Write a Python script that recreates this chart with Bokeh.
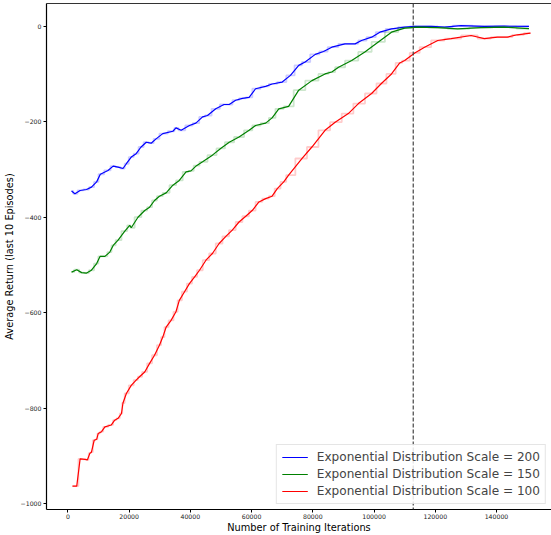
from bokeh.plotting import figure
from bokeh.models import (LinearAxis, FixedTicker, Span, Range1d, Legend, LegendItem,
                          BasicTickFormatter)
from bokeh.embed import file_html
from bokeh.resources import INLINE

# ---- data ----
x_200 = [1200, 2300, 4000, 6100, 7700, 9400, 10600, 13100, 14800, 16400, 18000, 19100, 20700, 22300,
         23900, 25600, 27200, 28800, 31000, 34300, 35300, 37000, 39700, 41800, 44000, 45600, 48300,
         51000, 52700, 54800, 57000, 59200, 61300, 64600, 66700, 70000, 72700, 75400, 77500, 80800,
         83500, 86200, 90500, 93800, 95900, 99200, 101900, 105700, 110000, 113300, 118700, 123000,
         128400, 136000, 142500, 150600]
y_200 = [-345, -351, -344, -342, -337, -326, -310, -302, -293, -295, -298, -288, -274, -267,
         -253, -243, -245, -236, -225, -220, -213, -218, -208, -203, -190, -187, -173,
         -164, -164, -155, -151, -149, -131, -126, -121, -117, -103, -82, -75, -59,
         -53, -44, -37, -37, -30, -23, -12.5, -5.5, -2, -0.6, -0.6, -2,
         1, -0.6, 0, -0.6]

x_150 = [1200, 2900, 4500, 6100, 7700, 9400, 10500, 12100, 13700, 14800, 16400, 18600, 20200, 20700,
         22900, 25100, 26700, 28300, 29900, 32100, 34300, 36400, 38600, 40200, 42000, 44000, 47200,
         49900, 52700, 55900, 59200, 61300, 64600, 66700, 68900, 72100, 75400, 79700, 84000, 86200,
         88400, 92700, 97000, 101400, 105700, 110000, 114400, 120800, 127300, 134900, 142500, 150600]
y_150 = [-515, -510, -516, -517, -511, -497, -482, -482, -473, -459, -448, -429, -417, -422,
         -400, -386, -379, -365, -356, -349, -333, -323, -305, -303, -292, -284, -270,
         -256, -243, -232, -218, -208, -203, -192, -173, -168, -134, -114, -100, -96,
         -86, -72, -54, -33, -12.5, -4, -2, -3, -5.5, -3, -2, -5]

x_100 = [1500, 2900, 4000, 5600, 6400, 7200, 7700, 8600, 9400, 9900, 11000, 12100, 14200, 15300,
         16400, 17500, 18000, 19100, 20700, 22300, 23400, 25100, 26700, 28300, 29900, 31000, 32100,
         33700, 35300, 36400, 38100, 39700, 41400, 43000, 45100, 47200, 49400, 51600, 53700, 55900,
         58100, 60200, 62400, 64600, 66700, 68400, 70500, 72100, 76500, 79700, 84000, 87300, 91600,
         94900, 99200, 102400, 105700, 108400, 110000, 113300, 116500, 120800, 125200, 131700,
         136000, 140300, 143500, 146800, 151100]
y_100 = [-963, -963, -906, -907, -908, -894, -892, -867, -865, -853, -849, -839, -835, -825,
         -821, -811, -789, -769, -752, -741, -734, -724, -706, -689, -668, -651, -630,
         -616, -598, -574, -556, -539, -525, -511, -490, -476, -455, -440, -427, -410,
         -398, -386, -368, -361, -356, -340, -326, -312, -277, -253, -218, -201, -183,
         -162, -141, -120, -100, -77, -72, -56, -44, -30, -26, -19.5,
         -26, -23, -23, -18, -14.6]

labels = ["Exponential Distribution Scale = 200",
          "Exponential Distribution Scale = 150",
          "Exponential Distribution Scale = 100"]
colors = ["blue", "green", "red"]
vline_x = 112800

x_ticks = [0, 20000, 40000, 60000, 80000, 100000, 120000, 140000]
y_ticks = [0, -200, -400, -600, -800, -1000]

FONT = "DejaVu Sans"

p = figure(width=551, height=535, output_backend="svg", toolbar_location=None,
           x_range=Range1d(-6981, 157960), y_range=Range1d(-1012, 47.5),
           min_border_left=43, min_border_right=0, min_border_top=3, min_border_bottom=26,
           x_axis_label="Number of Training Iterations",
           y_axis_label="Average Return (last 10 Episodes)")
p.grid.visible = False
p.outline_line_color = None
p.background_fill_color = "white"
p.border_fill_color = "white"

for ax in (p.xaxis[0], p.yaxis[0]):
    ax.major_label_text_font = FONT
    ax.major_label_text_font_size = "6.2px"
    ax.major_label_text_color = "#222222"
    ax.axis_label_text_font = FONT
    ax.axis_label_text_font_size = "9.8px"
    ax.axis_label_text_font_style = "normal"
    ax.axis_label_text_color = "black"
    ax.minor_tick_line_color = None
    ax.major_tick_in = 0
    ax.major_tick_out = 3
    ax.major_tick_line_color = "black"
    ax.axis_line_color = "black"
    ax.axis_line_width = 1.2
p.yaxis.major_label_standoff = 2
p.yaxis.axis_label_standoff = 3
p.xaxis.major_label_standoff = 1
p.xaxis.axis_label_standoff = 0
p.xaxis.ticker = FixedTicker(ticks=x_ticks)
p.xaxis.formatter = BasicTickFormatter(use_scientific=False)
p.yaxis.ticker = FixedTicker(ticks=y_ticks)

top_axis = LinearAxis(ticker=FixedTicker(ticks=[]), axis_line_color="#333333",
                      major_tick_line_color=None, minor_tick_line_color=None,
                      major_tick_out=0, major_label_standoff=0,
                      major_label_text_font_size="0px")
p.add_layout(top_axis, "above")

xs = [x_200, x_150, x_100]
ys = [y_200, y_150, y_100]
items = []
for x, y, c, lab in zip(xs, ys, colors, labels):
    p.step(x, y, mode="center", line_color=c, line_alpha=0.2, line_width=1.8)
    r = p.line(x, y, line_color=c, line_width=1.2)
    items.append(LegendItem(label=lab, renderers=[r]))

p.add_layout(Span(location=vline_x, dimension="height", line_color="#444444",
                  line_dash="4 2", line_width=1.2))

legend = Legend(items=items, location="bottom_right")
legend.label_text_font = FONT
legend.label_text_font_size = "12.1px"
legend.label_height = 14
legend.glyph_width = 26
legend.glyph_height = 14
legend.spacing = 3
legend.padding = 5
legend.margin = 5
legend.border_line_color = "#cccccc"
legend.background_fill_alpha = 0.85
legend.label_standoff = 9
p.add_layout(legend)

open("out.html", "w").write(file_html(p, INLINE))
